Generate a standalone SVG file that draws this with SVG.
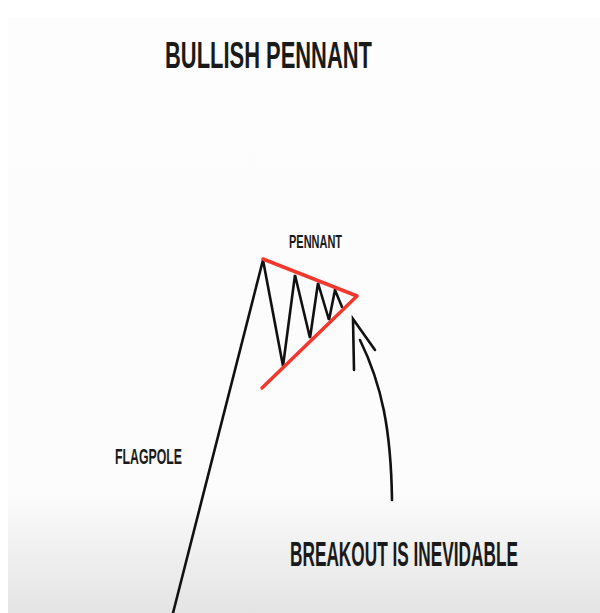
<svg xmlns="http://www.w3.org/2000/svg" width="600" height="613" viewBox="0 0 600 613">
  <defs>
    <linearGradient id="bg" x1="0" y1="0" x2="0" y2="1">
      <stop offset="0" stop-color="#fcfdfc"/>
      <stop offset="0.8" stop-color="#fbfcfb"/>
      <stop offset="0.86" stop-color="#f3f4f3"/>
      <stop offset="1" stop-color="#e3e4e3"/>
    </linearGradient>
    <style>
      .lbl { font-family: "Liberation Sans", Arial, sans-serif; font-weight: bold; fill: #1a1a1a; }
      .blk { fill: none; stroke: #111; stroke-width: 2.6; stroke-linejoin: miter; stroke-linecap: round; }
      .red { fill: none; stroke: #f2382c; stroke-width: 3.5; stroke-linecap: round; stroke-linejoin: round; }
    </style>
  </defs>
  <rect x="0" y="0" width="600" height="613" fill="#ffffff"/>
  <rect x="8" y="17" width="592" height="596" fill="url(#bg)"/>

  <g id="title">
    <text class="lbl" x="165" y="68" font-size="36" textLength="207" lengthAdjust="spacingAndGlyphs">BULLISH PENNANT</text>
  </g>

  <g id="connectors">
    <path id="flagpole-line" class="blk" d="M173,613 L263,260 L283,366 L295,275 L310,338 L318,283 L329,320 L335,290 L342,307"/>
    <path id="pennant-lines" class="red" d="M263,259 L357,296 L262,388"/>
    <path id="arrow" class="blk" d="M392,500 C391,430 382,385 360,340 M354,370 L353,319 L375,350"/>
  </g>

  <g id="pennant-label">
    <text class="lbl" x="289" y="248" font-size="19" textLength="53" lengthAdjust="spacingAndGlyphs">PENNANT</text>
  </g>
  <g id="flagpole-label">
    <text class="lbl" x="115" y="464" font-size="22" textLength="67" lengthAdjust="spacingAndGlyphs">FLAGPOLE</text>
  </g>
  <g id="breakout-label">
    <text class="lbl" x="290" y="566" font-size="35" textLength="228" lengthAdjust="spacingAndGlyphs">BREAKOUT IS INEVIDABLE</text>
  </g>
</svg>
